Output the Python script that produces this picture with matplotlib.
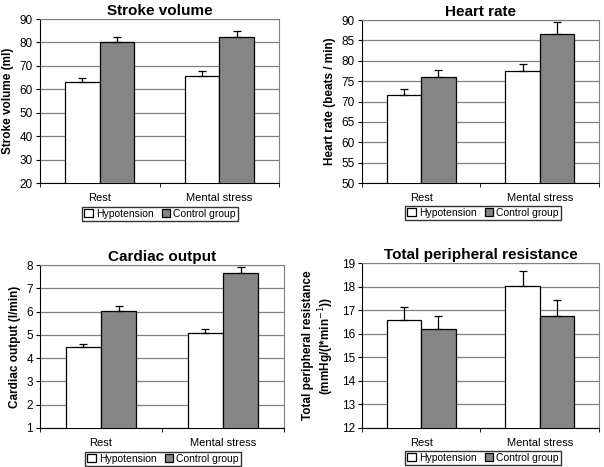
import numpy as np
import matplotlib
matplotlib.use("Agg")
import matplotlib.pyplot as plt

plt.rcParams['font.family'] = ['Liberation Sans', 'DejaVu Sans']

categories = ["Rest", "Mental stress"]
groups = ["Hypotension", "Control group"]

sv_hypo = [63.2, 65.7]
sv_hypo_err = [1.7, 2.3]
sv_ctrl = [80.0, 82.5]
sv_ctrl_err = [2.4, 2.4]

hr_hypo = [71.5, 77.6]
hr_hypo_err = [1.5, 1.6]
hr_ctrl = [76.0, 86.5]
hr_ctrl_err = [1.8, 3.0]

co_hypo = [4.50, 5.07]
co_hypo_err = [0.12, 0.20]
co_ctrl = [6.03, 7.65]
co_ctrl_err = [0.20, 0.27]

tpr_hypo = [16.60, 18.03]
tpr_hypo_err = [0.55, 0.65]
tpr_ctrl = [16.20, 16.76]
tpr_ctrl_err = [0.55, 0.67]

W, H = 604, 467
fig = plt.figure(figsize=(W / 100, H / 100), dpi=100)


def px_axes(left, top, right, bottom):
    return fig.add_axes([left / W, 1 - bottom / H, (right - left) / W, (bottom - top) / H])


panels = [
    dict(box=(40, 19, 279, 183), title="Stroke volume", ylabel="Stroke volume (ml)",
         data=(sv_hypo, sv_hypo_err, sv_ctrl, sv_ctrl_err), ylim=(20, 90), step=10,
         leg=(160, 214)),
    dict(box=(362, 20, 599, 183), title="Heart rate", ylabel="Heart rate (beats / min)",
         data=(hr_hypo, hr_hypo_err, hr_ctrl, hr_ctrl_err), ylim=(50, 90), step=5,
         leg=(483, 213)),
    dict(box=(40, 265, 284, 428), title="Cardiac output", ylabel="Cardiac output (l/min)",
         data=(co_hypo, co_hypo_err, co_ctrl, co_ctrl_err), ylim=(1, 8), step=1,
         leg=(163, 459)),
    dict(box=(362, 263, 599, 428), title="Total peripheral resistance",
         ylabel="Total peripheral resistance\n(mmHg/(l*min$^{-1}$))",
         data=(tpr_hypo, tpr_hypo_err, tpr_ctrl, tpr_ctrl_err), ylim=(12, 19), step=1,
         leg=(483, 458)),
]

x = np.arange(len(categories))
bw = 0.29

for p in panels:
    ax = px_axes(*p["box"])
    hv, he, cv, ce = p["data"]
    b1 = ax.bar(x - bw / 2, hv, bw, color="white", edgecolor="black", linewidth=0.9,
                yerr=[np.zeros(2), he], error_kw=dict(ecolor="black", elinewidth=0.9,
                                                      capsize=3, capthick=0.9), zorder=3)
    b2 = ax.bar(x + bw / 2, cv, bw, color="#858585", edgecolor="black", linewidth=0.9,
                yerr=[np.zeros(2), ce], error_kw=dict(ecolor="black", elinewidth=0.9,
                                                      capsize=3, capthick=0.9), zorder=3)
    lo, hi = p["ylim"]
    ax.set_ylim(lo, hi)
    ax.set_xlim(-0.5, 1.5)
    ax.set_yticks(np.arange(lo, hi + 0.001, p["step"]))
    ax.yaxis.grid(True, color="#808080", linewidth=0.9)
    ax.set_axisbelow(True)
    ax.set_xticks(x)
    ax.set_xticklabels(categories, fontsize=8)
    ax.set_xticks([-0.5, 0.5, 1.5], minor=True)
    ax.tick_params(axis="x", which="major", length=0, pad=7)
    ax.tick_params(axis="x", which="minor", length=3, direction="out")
    ax.tick_params(axis="y", labelsize=8.5, length=3, direction="out", pad=2)
    for s in ("top", "right"):
        ax.spines[s].set_color("#808080")
    for s in ("left", "bottom"):
        ax.spines[s].set_color("black")
    ax.set_title(p["title"], fontsize=11, fontweight="bold", pad=3)
    ax.set_ylabel(p["ylabel"], fontsize=8.5, fontweight="bold", labelpad=4)
    lx, ly = p["leg"]
    fig.legend([b1, b2], groups, loc="center", bbox_to_anchor=(lx / W, 1 - ly / H),
               ncol=2, fontsize=7.5, frameon=True, fancybox=False, edgecolor="black",
               handlelength=0.8, handleheight=0.8, handletextpad=0.3, columnspacing=0.8,
               borderpad=0.2, borderaxespad=0)

fig.savefig("out.png", dpi=100)
